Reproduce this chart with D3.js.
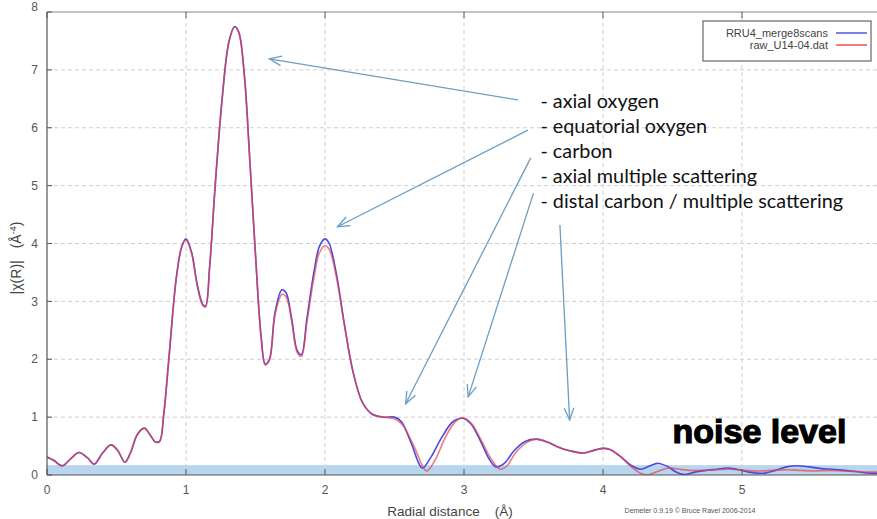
<!DOCTYPE html>
<html>
<head>
<meta charset="utf-8">
<script src="https://cdn.jsdelivr.net/npm/d3@7"></script>
<style>
  body { margin: 0; background: #fff; }
  svg { display: block; font-family: "Liberation Sans", Arial, sans-serif; }
</style>
</head>
<body>
<svg id="chart" width="877" height="519"></svg>
<script>
// Radial distance (A) and |chi(R)|
const blueR = [0.00,0.05,0.11,0.17,0.23,0.29,0.34,0.40,0.46,0.51,0.56,0.60,0.65,0.70,0.74,0.78,0.81,0.84,0.88,0.93,0.97,1.00,1.04,1.08,1.12,1.14,1.17,1.21,1.26,1.31,1.35,1.38,1.42,1.46,1.50,1.54,1.57,1.60,1.64,1.69,1.72,1.76,1.80,1.83,1.87,1.92,1.96,2.00,2.03,2.08,2.14,2.20,2.27,2.34,2.42,2.50,2.55,2.62,2.70,2.76,2.84,2.92,2.99,3.05,3.12,3.18,3.23,3.29,3.36,3.44,3.52,3.60,3.68,3.76,3.86,3.94,4.00,4.05,4.12,4.20,4.27,4.34,4.40,4.47,4.52,4.58,4.66,4.74,4.82,4.89,4.96,5.05,5.15,5.24,5.32,5.40,5.48,5.57,5.65,5.74,5.82,5.92,6.00];
const blueV = [0.31,0.25,0.16,0.28,0.39,0.30,0.19,0.38,0.52,0.42,0.22,0.38,0.70,0.81,0.70,0.57,0.58,1.05,2.10,3.40,3.95,4.08,3.85,3.30,2.95,2.92,3.60,5.00,6.50,7.50,7.75,7.65,6.90,5.40,3.80,2.40,1.92,2.00,2.80,3.20,3.15,2.70,2.15,2.08,2.70,3.50,3.95,4.08,4.00,3.50,2.60,1.80,1.25,1.05,1.00,1.00,0.92,0.55,0.12,0.30,0.65,0.92,0.98,0.88,0.58,0.28,0.14,0.20,0.42,0.58,0.62,0.57,0.48,0.42,0.38,0.43,0.46,0.44,0.33,0.17,0.10,0.16,0.20,0.14,0.06,0.01,0.05,0.08,0.10,0.12,0.10,0.05,0.03,0.08,0.14,0.16,0.14,0.11,0.10,0.08,0.06,0.03,0.03];

const redR = [0.00,0.05,0.11,0.17,0.23,0.29,0.34,0.40,0.46,0.51,0.56,0.60,0.65,0.70,0.74,0.78,0.81,0.84,0.88,0.93,0.97,1.00,1.04,1.08,1.12,1.14,1.17,1.21,1.26,1.31,1.35,1.38,1.42,1.46,1.50,1.54,1.57,1.60,1.64,1.69,1.72,1.76,1.80,1.83,1.87,1.92,1.96,2.00,2.03,2.08,2.14,2.20,2.27,2.34,2.42,2.50,2.56,2.64,2.73,2.79,2.86,2.93,2.99,3.05,3.12,3.19,3.26,3.31,3.37,3.45,3.52,3.60,3.68,3.76,3.86,3.94,4.00,4.05,4.12,4.20,4.27,4.32,4.40,4.48,4.55,4.62,4.72,4.82,4.92,5.02,5.12,5.22,5.32,5.42,5.52,5.62,5.72,5.82,5.92,6.00];
const redV = [0.31,0.25,0.16,0.28,0.39,0.30,0.19,0.38,0.52,0.42,0.22,0.38,0.70,0.81,0.70,0.57,0.58,1.05,2.10,3.40,3.95,4.06,3.83,3.28,2.93,2.90,3.58,5.00,6.50,7.50,7.74,7.64,6.90,5.40,3.80,2.40,1.90,1.98,2.76,3.12,3.08,2.66,2.12,2.05,2.64,3.40,3.84,3.96,3.90,3.44,2.58,1.80,1.25,1.05,1.00,0.97,0.86,0.50,0.07,0.25,0.62,0.90,0.99,0.90,0.62,0.30,0.10,0.16,0.38,0.56,0.62,0.57,0.48,0.42,0.38,0.43,0.46,0.44,0.33,0.15,0.03,0.00,0.07,0.12,0.10,0.08,0.08,0.09,0.10,0.08,0.07,0.08,0.09,0.08,0.07,0.08,0.07,0.06,0.05,0.05];

const seriesNames = ["RRU4_merge8scans", "raw_U14-04.dat"];
const seriesColors = ["#4a4ae0", "#e8424e"];

const xTicks = [0, 1, 2, 3, 4, 5];
const yTicks = [0, 1, 2, 3, 4, 5, 6, 7, 8];
const noiseLevel = 0.17;

// annotation labels and arrows, in data units
const labels = ["- axial oxygen", "- equatorial oxygen", "- carbon", "- axial multiple scattering", "- distal carbon / multiple scattering"];
const arrowFrom = [[3.39, 6.48], [3.46, 5.96], [3.48, 5.48], [3.50, 4.87], [3.69, 4.32]];
const arrowTo = [[1.60, 7.19], [2.09, 4.29], [2.58, 1.23], [3.03, 1.35], [3.76, 0.95]];

const svg = d3.select("#chart");
const W = 877, H = 519;
const margin = { top: 12, left: 47, bottom: 44 };

const x = d3.scaleLinear().domain([0, 6]).range([margin.left, margin.left + 139 * 6]);
const y = d3.scaleLinear().domain([0, 8]).range([H - margin.bottom, margin.top]);

svg.append("defs").append("clipPath").attr("id", "plot")
  .append("rect").attr("x", x(0)).attr("y", y(8)).attr("width", x(6) - x(0)).attr("height", y(0) - y(8));

// grid
const grid = svg.append("g").attr("stroke", "#cfcfcf").attr("stroke-dasharray", "4,3").attr("stroke-width", 1);
grid.selectAll(".gx").data(xTicks.slice(1)).enter().append("line")
  .attr("x1", d => x(d)).attr("x2", d => x(d)).attr("y1", y(0)).attr("y2", y(8));
grid.selectAll(".gy").data(yTicks.slice(1, -1)).enter().append("line")
  .attr("x1", x(0)).attr("x2", x(6)).attr("y1", d => y(d)).attr("y2", d => y(d));

// noise band
svg.append("rect")
  .attr("x", x(0)).attr("y", y(noiseLevel))
  .attr("width", x(6) - x(0)).attr("height", y(0) - y(noiseLevel))
  .attr("fill", "#b7d5ec");

// curves
const line = d3.line().x(d => x(d[0])).y(d => y(d[1])).curve(d3.curveCatmullRom.alpha(0.5));
const plot = svg.append("g").attr("clip-path", "url(#plot)");
plot.append("path").datum(d3.zip(blueR, blueV))
  .attr("fill", "none").attr("stroke", seriesColors[0]).attr("stroke-width", 1.6).attr("d", line);
plot.append("path").datum(d3.zip(redR, redV))
  .attr("fill", "none").attr("stroke", seriesColors[1]).attr("stroke-width", 1.6)
  .attr("stroke-opacity", 0.7).attr("d", line);

// axes frame
const frame = svg.append("g").attr("stroke", "#555").attr("stroke-width", 1.2);
frame.append("line").attr("x1", x(0)).attr("x2", x(0)).attr("y1", y(0)).attr("y2", y(8));
frame.append("line").attr("x1", x(0)).attr("x2", x(6)).attr("y1", y(0)).attr("y2", y(0));
frame.append("line").attr("x1", x(0)).attr("x2", x(6)).attr("y1", y(8)).attr("y2", y(8)).attr("stroke", "#888");

const ticks = svg.append("g").attr("stroke", "#555").attr("stroke-width", 1);
ticks.selectAll(".ty").data(yTicks).enter().append("line")
  .attr("x1", x(0)).attr("x2", x(0) + 5).attr("y1", d => y(d)).attr("y2", d => y(d));
ticks.selectAll(".tx").data(xTicks).enter().append("line")
  .attr("x1", d => x(d)).attr("x2", d => x(d)).attr("y1", y(0)).attr("y2", y(0) - 6);
ticks.selectAll(".tt").data(xTicks).enter().append("line")
  .attr("x1", d => x(d)).attr("x2", d => x(d)).attr("y1", y(8)).attr("y2", y(8) + 6);

svg.append("g").selectAll("text").data(yTicks).enter().append("text")
  .attr("x", x(0) - 9).attr("y", d => d === 8 ? y(d) - 5 : y(d)).attr("dy", "0.35em")
  .attr("text-anchor", "end").attr("font-size", 12).attr("fill", "#555").text(d => d);
svg.append("g").selectAll("text").data(xTicks).enter().append("text")
  .attr("x", d => x(d)).attr("y", y(0) + 19)
  .attr("text-anchor", "middle").attr("font-size", 12).attr("fill", "#555").text(d => d);

// axis titles
svg.append("text").attr("x", 450).attr("y", 516).attr("text-anchor", "middle")
  .attr("font-size", 13.5).attr("fill", "#444").attr("xml:space", "preserve")
  .text("Radial distance    (Å)");
const yl = svg.append("text").attr("transform", "translate(21,258) rotate(-90)")
  .attr("text-anchor", "middle").attr("font-size", 14).attr("fill", "#444");
yl.append("tspan").text("|χ(R)|");
yl.append("tspan").attr("dx", 12).text("(Å");
yl.append("tspan").attr("dy", -5).attr("font-size", 9).text("-4");
yl.append("tspan").attr("dy", 5).text(")");

// legend
const lg = svg.append("g");
lg.append("rect").attr("x", 703).attr("y", 21).attr("width", 168).attr("height", 40)
  .attr("fill", "#fff").attr("stroke", "#666").attr("stroke-width", 1.2);
seriesNames.forEach((name, i) => {
  lg.append("text").attr("x", 828).attr("y", 37 + i * 12).attr("text-anchor", "end")
    .attr("font-size", 11).attr("fill", "#444").text(name);
  lg.append("line").attr("x1", 836).attr("x2", 867).attr("y1", 33 + i * 12).attr("y2", 33 + i * 12)
    .attr("stroke", seriesColors[i]).attr("stroke-width", 1.4);
});

// annotation text
svg.append("g").selectAll("text").data(labels).enter().append("text")
  .attr("x", x(3.55)).attr("y", (d, i) => y(6.34) + i * 25)
  .attr("font-family", "Lato, sans-serif").attr("font-size", 19.8).attr("fill", "#111")
  .text(d => d);

// arrows
const arrowColor = "#6b9ec4";
const ag = svg.append("g").attr("stroke", arrowColor).attr("stroke-width", 1.3).attr("fill", "none");
arrowFrom.forEach((f, i) => {
  const x1 = x(f[0]), y1 = y(f[1]), x2 = x(arrowTo[i][0]), y2 = y(arrowTo[i][1]);
  const a = Math.atan2(y2 - y1, x2 - x1);
  const hl = 13, ha = 0.38;
  ag.append("line").attr("x1", x1).attr("y1", y1).attr("x2", x2).attr("y2", y2);
  ag.append("path").attr("d",
    `M${x2 - hl * Math.cos(a - ha)},${y2 - hl * Math.sin(a - ha)} L${x2},${y2} L${x2 - hl * Math.cos(a + ha)},${y2 - hl * Math.sin(a + ha)}`);
});

// noise label and credit
svg.append("text").attr("x", x(4.5)).attr("y", y(0.55))
  .attr("font-family", "'Liberation Sans', Arial, sans-serif").attr("font-weight", "bold")
  .attr("font-size", 34).attr("fill", "#000").attr("stroke", "#000").attr("stroke-width", 1.2)
  .text("noise level");
svg.append("text").attr("x", 690).attr("y", 513).attr("text-anchor", "middle")
  .attr("font-size", 7).attr("fill", "#555").text("Demeter 0.9.19 © Bruce Ravel 2006-2014");
</script>
</body>
</html>
